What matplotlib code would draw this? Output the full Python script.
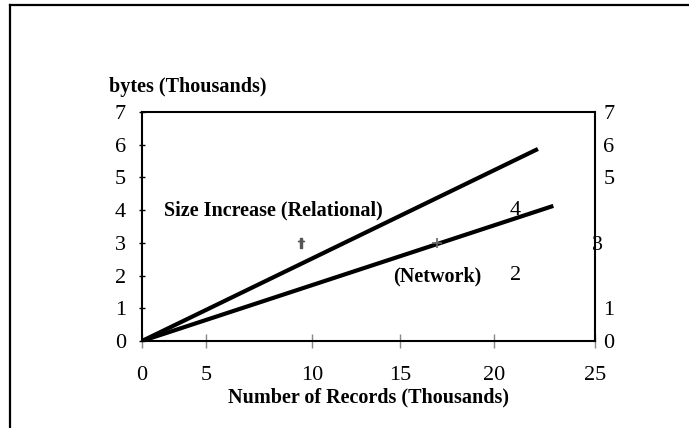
import matplotlib
matplotlib.use("Agg")
import matplotlib.pyplot as plt
from matplotlib.lines import Line2D
from matplotlib.transforms import ScaledTranslation

plt.rcParams['font.family'] = ['Liberation Serif', 'DejaVu Serif']

# data
records = [0, 21.85]          # thousands of records
relational = [0, 5.87]        # bytes (thousands)
records_net = [0, 22.7]
network = [0, 4.13]

mark_rel = (8.8, 3.0)
mark_net = (16.3, 3.0)

xtick_pos = [0, 3.53, 9.38, 14.24, 19.43, 25]
xtick_lab = ['0', '5', '10', '15', '20', '25']
ytick_left = [0, 1, 2, 3, 4, 5, 6, 7]
ytick_right = [0, 1, 3, 5, 6, 7]

fig = plt.figure(figsize=(6.89, 4.28), dpi=100)
ax = fig.add_axes([142 / 689, 87 / 428, 453 / 689, 229 / 428])

# outer frame (only left and top edges visible)
fx = 10 / 689
fy = 1 - 5 / 428
fig.add_artist(Line2D([fx, fx], [-0.1, fy], transform=fig.transFigure, color='black', lw=1.6))
fig.add_artist(Line2D([fx, 1.1], [fy, fy], transform=fig.transFigure, color='black', lw=1.6))

ax.plot(records, relational, color='black', lw=3, solid_capstyle='butt')
ax.plot(records_net, network, color='black', lw=3, solid_capstyle='butt')
ax.plot([mark_rel[0]], [mark_rel[1]], marker='$\\dagger$', color='#555555', ms=7, ls='none')
ax.plot([mark_net[0]], [mark_net[1]], marker='+', color='#666666', ms=7, mew=1.2, ls='none')

ax.set_xlim(0, 25)
ax.set_ylim(0, 7)
for s in ax.spines.values():
    s.set_linewidth(1.5)
    s.set_zorder(5)

ax.set_xticks(xtick_pos)
ax.set_xticklabels(xtick_lab)
ax.set_yticks(ytick_left)
ax.tick_params(axis='x', direction='inout', length=10, width=1, color='#888888',
               labelsize=16, pad=13)
ax.tick_params(axis='y', direction='inout', length=5, width=1, color='black',
               labelsize=16, pad=9)

ax2 = ax.twinx()
ax2.set_ylim(0, 7)
ax2.set_yticks(ytick_right)
ax2.tick_params(axis='y', length=0, labelsize=16, pad=6)
for s in ax2.spines.values():
    s.set_visible(False)
for lab in ax2.get_yticklabels():
    if lab.get_text() == '3':
        lab.set_transform(lab.get_transform() + ScaledTranslation(-8 / 72, 0, fig.dpi_scale_trans))

ax.text(20.6, 4, '4', fontsize=16, ha='center', va='center')
ax.text(20.6, 2, '2', fontsize=16, ha='center', va='center')

ax.text(1.2, 4, 'Size Increase (Relational)', fontsize=14.5, fontweight='bold',
        ha='left', va='center')
ax.text(16.3, 1.96, '(Network)', fontsize=14.5, fontweight='bold',
        ha='center', va='center')

ax.set_xlabel('Number of Records (Thousands)', fontsize=14.5, fontweight='bold', labelpad=2)
fig.text(109 / 689, 1 - 87 / 428, 'bytes (Thousands)', fontsize=14.5, fontweight='bold',
         ha='left', va='center')

fig.savefig('out.png', dpi=100)
